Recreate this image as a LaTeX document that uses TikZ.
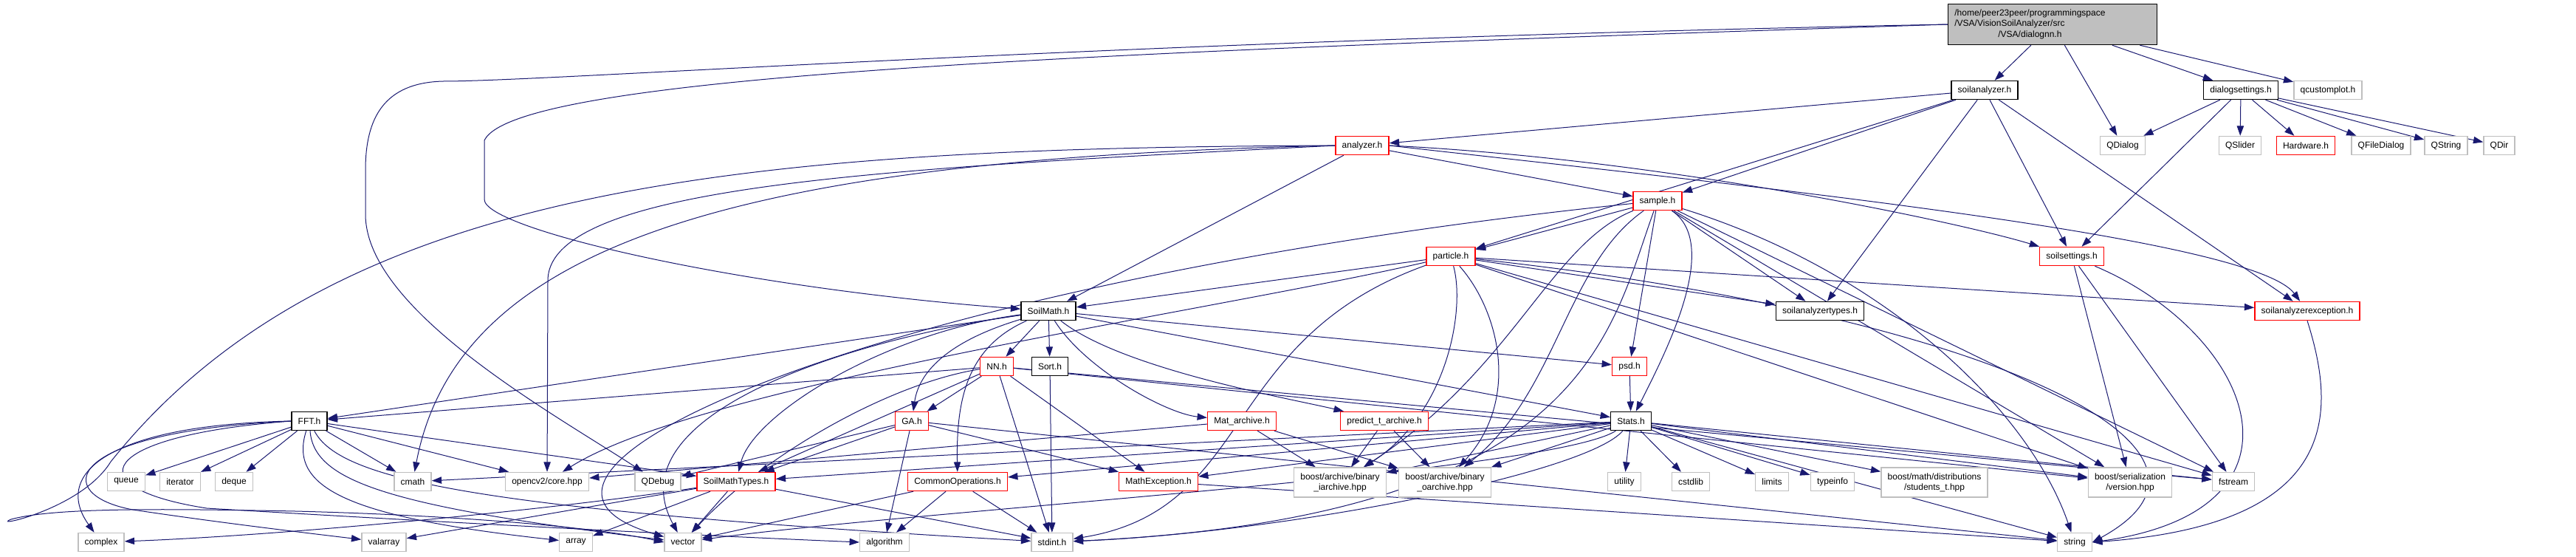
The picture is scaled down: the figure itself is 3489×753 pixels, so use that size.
\documentclass[tikz,border=0pt]{standalone}
\usepackage{fontspec}
\setmainfont{Liberation Sans}
\usetikzlibrary{arrows.meta,backgrounds}
\definecolor{dxedge}{HTML}{191970}
\definecolor{dxred}{HTML}{FF0000}
\definecolor{dxgray}{HTML}{BFBFBF}

\begin{document}
\begin{tikzpicture}[
    x=0.75pt, y=-0.75pt,
    filebox/.style={draw=black, line width=1.1pt, fill=white, inner xsep=6.5pt, inner ysep=0pt,
        minimum height=18.75pt, align=center, font=\fontsize{9}{10.5}\selectfont},
    redbox/.style={filebox, draw=dxred},
    sysbox/.style={filebox, draw=dxgray},
    twoline/.style={minimum height=30pt},
    rootbox/.style={filebox, fill=dxgray, minimum width=212pt, minimum height=41.25pt,
        text width=199pt, align=left, font=\fontsize{9}{10.8}\selectfont},
    dep/.style={-{Triangle[length=10pt,width=7pt]}, draw=dxedge, line width=0.75pt}
]
\useasboundingbox (0,0) rectangle (3489,753);

% the file itself and what it pulls in first
\node[rootbox] (root) at (2780,33) {\begin{tabular}{@{}l@{}}/home/peer23peer/programmingspace\\
  /VSA/VisionSoilAnalyzer/src\\ \multicolumn{1}{@{}c@{}}{/VSA/dialognn.h}\end{tabular}};
\node[filebox] (soil) at (2688,122) {soilanalyzer.h};
\node[filebox] (dset) at (3035,122) {dialogsettings.h};
\node[sysbox] (qcp) at (3153,122) {qcustomplot.h};
\node[sysbox] (qdialog) at (2875,197) {QDialog};
\node[sysbox] (qslider) at (3034,197) {QSlider};
\node[redbox] (hardware) at (3123,197) {Hardware.h};
\node[sysbox] (qfiledialog) at (3225,197) {QFileDialog};
\node[sysbox] (qstring) at (3313,197) {QString};
\node[sysbox] (qdir) at (3385,197) {QDir};
\node[redbox] (analyzer) at (1845,197) {analyzer.h};
\node[redbox] (sample) at (2245,272) {sample.h};
\node[redbox] (particle) at (1965,347) {particle.h};
\node[redbox] (ssettings) at (2806,347) {soilsettings.h};

% SoilMath and its own headers
\node[filebox] (smath) at (1420,421) {SoilMath.h};
\node[filebox] (satypes) at (2465,421) {soilanalyzertypes.h};
\node[redbox] (saexc) at (3125,421) {soilanalyzerexception.h};
\node[redbox] (nn) at (1350,496) {NN.h};
\node[filebox] (sort) at (1422,496) {Sort.h};
\node[redbox] (psd) at (2207,496) {psd.h};
\node[filebox] (fft) at (419,570) {FFT.h};
\node[redbox] (ga) at (1235,570) {GA.h};
\node[redbox] (matarch) at (1682,570) {Mat\_archive.h};
\node[redbox] (predarch) at (1875,570) {predict\_t\_archive.h};
\node[filebox] (stats) at (2209,570) {Stats.h};

% leaves, first row
\node[sysbox] (queue) at (171,652) {queue};
\node[sysbox] (iterator) at (244,652) {iterator};
\node[sysbox] (deque) at (317,652) {deque};
\node[sysbox] (cmath) at (559,652) {cmath};
\node[sysbox] (opencv) at (741,652) {opencv2/core.hpp};
\node[sysbox] (qdebug) at (891,652) {QDebug};
\node[redbox] (smtypes) at (997,652) {SoilMathTypes.h};
\node[redbox] (commonops) at (1297,652) {CommonOperations.h};
\node[redbox] (mathexc) at (1569,652) {MathException.h};
\node[sysbox, twoline] (iarch) at (1815,653) {boost/archive/binary\\\_iarchive.hpp};
\node[sysbox, twoline] (oarch) at (1957,653) {boost/archive/binary\\\_oarchive.hpp};
\node[sysbox] (utility) at (2200,652) {utility};
\node[sysbox] (cstdlib) at (2290,652) {cstdlib};
\node[sysbox] (limits) at (2400,652) {limits};
\node[sysbox] (typeinfo) at (2482,652) {typeinfo};
\node[sysbox, twoline] (students) at (2620,653) {boost/math/distributions\\/students\_t.hpp};
\node[sysbox, twoline] (version) at (2885,653) {boost/serialization\\/version.hpp};
\node[sysbox] (fstream) at (3025,652) {fstream};

% leaves, bottom row
\node[sysbox] (complex) at (137,734) {complex};
\node[sysbox] (valarray) at (520,734) {valarray};
\node[sysbox] (array) at (780,734) {array};
\node[sysbox] (vector) at (925,734) {vector};
\node[sysbox] (algorithm) at (1198,734) {algorithm};
\node[sysbox] (stdint) at (1425,734) {stdint.h};
\node[sysbox] (string) at (2810,734) {string};

\begin{scope}[on background layer]
% dialognn.h
\draw[dep] (root) -- (soil);
\draw[dep] (root) -- (qdialog);
\draw[dep] (root) -- (dset);
\draw[dep] (root) -- (qcp);
\draw[dep] (root.west) .. controls (1500,70) and (700,100) .. (656,190) -- (656,270)
  .. controls (656,310) and (1000,390) .. (smath);
\draw[dep] (root.west) .. controls (1500,55) and (750,110) .. (600,110)
  .. controls (520,112) and (495,160) .. (495,230) -- (495,290) .. controls (495,420) and (750,560) .. (qdebug);

% soilanalyzer.h
\draw[dep] (soil) -- (analyzer);
\draw[dep] (soil) -- (sample);
\draw[dep] (soil) -- (particle);
\draw[dep] (soil) -- (satypes);
\draw[dep] (soil) -- (ssettings);
\draw[dep] (soil) -- (saexc);

% dialogsettings.h
\draw[dep] (dset) -- (qdialog);
\draw[dep] (dset) -- (ssettings);
\draw[dep] (dset) -- (qslider);
\draw[dep] (dset) -- (hardware);
\draw[dep] (dset) -- (qfiledialog);
\draw[dep] (dset) -- (qstring);
\draw[dep] (dset) -- (qdir);

% analyzer.h
\draw[dep] (analyzer) -- (sample);
\draw[dep] (analyzer) -- (smath);
\draw[dep] (analyzer.east) .. controls (2250,215) and (2650,300) .. (ssettings);
\draw[dep] (analyzer.east) .. controls (2350,250) and (3050,320) .. (saexc);
\draw[dep] (analyzer.west) .. controls (1000,215) and (620,330) .. (cmath);
\draw[dep] (analyzer.west) .. controls (1200,228) and (742,250) .. (742,380) -- (opencv);
\draw[dep] (analyzer.west) .. controls (1000,200) and (450,250) .. (150,625)
  .. controls (110,690) and (-15,715) .. (15,703) .. controls (70,688) and (200,688) .. (400,692)
  .. controls (600,697) and (800,712) .. (vector.west);

% sample.h
\draw[dep] (sample) -- (particle);
\draw[dep] (sample) -- (satypes);
\draw[dep] (sample) -- (psd);
\draw[dep] (sample) .. controls (2330,330) and (2260,470) .. (stats);
\draw[dep] (sample) .. controls (2180,450) and (2150,700) .. (stdint);
\draw[dep] (sample) .. controls (1200,380) and (600,640) .. (vector);
\draw[dep] (sample) .. controls (2100,330) and (2050,500) .. (iarch);
\draw[dep] (sample) .. controls (2120,360) and (2110,530) .. (oarch);
\draw[dep] (sample) -- (version);
\draw[dep] (sample) -- (fstream);
\draw[dep] (sample) .. controls (2560,370) and (2750,560) .. (string);

% particle.h
\draw[dep] (particle) -- (smath);
\draw[dep] (particle) -- (satypes);
\draw[dep] (particle) -- (saexc);
\draw[dep] (particle) .. controls (1650,420) and (950,520) .. (opencv);
\draw[dep] (particle) .. controls (1650,460) and (1700,690) .. (stdint);
\draw[dep] (particle) .. controls (1985,420) and (1960,560) .. (iarch);
\draw[dep] (particle) .. controls (2030,420) and (2060,540) .. (oarch);
\draw[dep] (particle) -- (version);
\draw[dep] (particle) -- (fstream);
\draw[dep] (particle) .. controls (2650,420) and (3080,600) .. (string.east);

% soilsettings.h, soilanalyzerexception.h
\draw[dep] (ssettings) -- (version);
\draw[dep] (ssettings) -- (fstream);
\draw[dep] (ssettings) .. controls (3050,450) and (3150,690) .. (string.east);
\draw[dep] (saexc.south) .. controls (3165,560) and (3170,710) .. (string.east);

% SoilMath.h
\draw[dep] (smath) -- (fft);
\draw[dep] (smath) -- (nn);
\draw[dep] (smath) -- (sort);
\draw[dep] (smath) -- (stats);
\draw[dep] (smath) -- (psd);
\draw[dep] (smath) .. controls (1290,460) and (1245,500) .. (ga);
\draw[dep] (smath) .. controls (1310,470) and (1295,540) .. (commonops);
\draw[dep] (smath) .. controls (1470,500) and (1580,560) .. (matarch);
\draw[dep] (smath) .. controls (1520,500) and (1750,540) .. (predarch);
\draw[dep] (smath) .. controls (1200,450) and (1020,560) .. (smtypes);
\draw[dep] (smath) .. controls (1150,460) and (830,560) .. (vector);

% NN.h, Sort.h, GA.h
\draw[dep] (nn) -- (fft);
\draw[dep] (nn) -- (ga);
\draw[dep] (nn) -- (stdint);
\draw[dep] (nn) -- (mathexc);
\draw[dep] (nn) -- (smtypes);
\draw[dep] (nn) .. controls (1200,520) and (1030,620) .. (vector);
\draw[dep] (nn) -- (version);
\draw[dep] (nn) -- (fstream);
\draw[dep] (sort) -- (stdint);
\draw[dep] (ga) -- (smtypes);
\draw[dep] (ga) -- (qdebug);
\draw[dep] (ga) -- (algorithm);
\draw[dep] (ga) -- (mathexc);
\draw[dep] (ga) -- (string);

% CommonOperations.h, MathException.h, archives, psd.h
\draw[dep] (commonops) -- (stdint);
\draw[dep] (commonops) -- (algorithm);
\draw[dep] (commonops) -- (vector);
\draw[dep] (mathexc) -- (string);
\draw[dep] (matarch) -- (opencv);
\draw[dep] (matarch) -- (iarch);
\draw[dep] (matarch) -- (oarch);
\draw[dep] (predarch) -- (iarch);
\draw[dep] (predarch) -- (oarch);
\draw[dep] (psd) -- (stats);

% Stats.h
\draw[dep] (stats) -- (smtypes);
\draw[dep] (stats) -- (mathexc);
\draw[dep] (stats) -- (commonops);
\draw[dep] (stats) -- (cmath);
\draw[dep] (stats) .. controls (2100,640) and (1250,690) .. (vector);
\draw[dep] (stats) .. controls (2150,640) and (1750,720) .. (stdint);
\draw[dep] (stats) -- (iarch);
\draw[dep] (stats) -- (oarch);
\draw[dep] (stats) -- (utility);
\draw[dep] (stats) -- (cstdlib);
\draw[dep] (stats) -- (limits);
\draw[dep] (stats) -- (typeinfo);
\draw[dep] (stats) -- (students);
\draw[dep] (stats) -- (version);
\draw[dep] (stats) -- (fstream);
\draw[dep] (stats) -- (string);

% FFT.h
\draw[dep] (fft) -- (queue);
\draw[dep] (fft) -- (iterator);
\draw[dep] (fft) -- (deque);
\draw[dep] (fft) -- (cmath);
\draw[dep] (fft) -- (opencv);
\draw[dep] (fft) -- (smtypes);
\draw[dep] (fft.west) .. controls (150,575) and (70,640) .. (complex);
\draw[dep] (fft.west) .. controls (80,585) and (70,670) .. (180,690)
  .. controls (300,708) and (420,722) .. (valarray);
\draw[dep] (fft.west) .. controls (130,590) and (100,660) .. (280,688)
  .. controls (650,710) and (950,725) .. (algorithm.west);
\draw[dep] (fft) .. controls (390,660) and (470,700) .. (array);
\draw[dep] (fft) .. controls (425,650) and (520,685) .. (vector);
\draw[dep] (fft) .. controls (460,650) and (650,690) .. (stdint);

% SoilMathTypes.h
\draw[dep] (smtypes) -- (vector);
\draw[dep] (smtypes) -- (array);
\draw[dep] (smtypes) -- (valarray);
\draw[dep] (smtypes) -- (stdint);
\draw[dep] (smtypes) .. controls (750,690) and (380,725) .. (complex);
\end{scope}
\end{tikzpicture}
\end{document}
